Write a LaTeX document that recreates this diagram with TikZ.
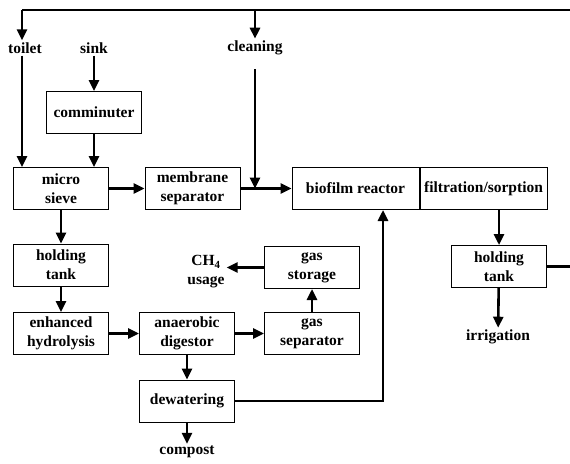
\documentclass[tikz,border=0pt]{standalone}
\usepackage{fontspec}
\setmainfont{Liberation Serif}
\usetikzlibrary{arrows.meta}

\begin{document}
\begin{tikzpicture}[x=1pt,y=-1pt,
    font=\fontsize{15.5}{19}\selectfont\bfseries,
    box/.style={draw, line width=1pt, minimum width=95pt, minimum height=42pt, align=center, inner sep=1pt},
    wide/.style={box, minimum width=127pt},
    lbl/.style={align=center, inner sep=2pt},
    flow/.style={-{Triangle[length=11pt,width=10pt]}, line width=2.6pt},
    pipe/.style={line width=2.6pt}]
            \useasboundingbox (0,0) rectangle (570,463);
            \coordinate (topL) at (22,10);
            \coordinate (topM) at (255,10);
            \coordinate (topR) at (570,10);
            
            \node[lbl] (toilet) at (25,48) {toilet};
            \node[lbl] (sink) at (94,48) {sink};
            \node[lbl] (cleaning) at (255,48) {cleaning};
            
            \node[box] (comminuter) at (94,112.5) {comminuter};
            \node[box] (sieve) at (61,188.5) {micro\\sieve};
            \node[box] (membrane) at (192.5,188.5) {membrane\\separator};
            \node[wide] (biofilm) at (355.5,188.5) {biofilm reactor};
            \node[wide, anchor=west] (filtration) at (biofilm.east) {filtration/sorption};
            \node[box] (holdR) at (499,266.5) {holding\\tank};
            
            \node[box] (holdL) at (61,265) {holding\\tank};
            \node[box] (storage) at (312,267.5) {gas\\storage};
            \node[lbl] (ch4) at (206,272) {CH\textsubscript{4}\\usage};
            \node[box] (hydrolysis) at (61,333.5) {enhanced\\hydrolysis};
            \node[box] (digestor) at (187,333.5) {anaerobic\\digestor};
            \node[box] (separator) at (312,333.5) {gas\\separator};
            \node[box] (dewatering) at (187,401) {dewatering};
            
            \node[lbl] (irrigation) at (498,337) {irrigation};
            \node[lbl] (compost) at (187,452) {compost};
            
            % water supply loop
            \draw[pipe] (topR) -- (topL);
            \draw[flow] (topL) -- (topL |- toilet.north);
            \draw[flow] (topM) -- (cleaning.north);
            \draw[pipe] (holdR.east) -- (holdR.east -| topR);
            
            % collection
            \draw[flow] (topL |- toilet.south) -- (topL |- sieve.north);
            \draw[flow] (sink) -- (comminuter);
            \draw[flow] (comminuter.south) -- (comminuter.south |- sieve.north);
            \draw[flow] (sieve) -- (membrane);
            \draw[flow] (membrane) -- (biofilm);
            \draw[flow] ([yshift=-12pt]cleaning.south) -- (cleaning.south |- membrane.east);
            
            % treatment line
            \draw[flow] (holdR.north |- filtration.south) -- (holdR.north);
            \draw[flow] (holdR) -- (irrigation);
            
            % solids line
            \draw[flow] (sieve) -- (holdL);
            \draw[flow] (holdL) -- (hydrolysis);
            \draw[flow] (hydrolysis) -- (digestor);
            \draw[flow] (digestor) -- (separator);
            \draw[flow] (separator) -- (storage);
            \draw[flow] (storage.west) -- (storage.west -| ch4.east);
            \draw[flow] (digestor) -- (dewatering);
            \draw[flow] (dewatering) -- (compost);
            \draw[flow] (dewatering.east) -- (383,401) -- (383,0 |- biofilm.south);
        \end{tikzpicture}
\end{document}
